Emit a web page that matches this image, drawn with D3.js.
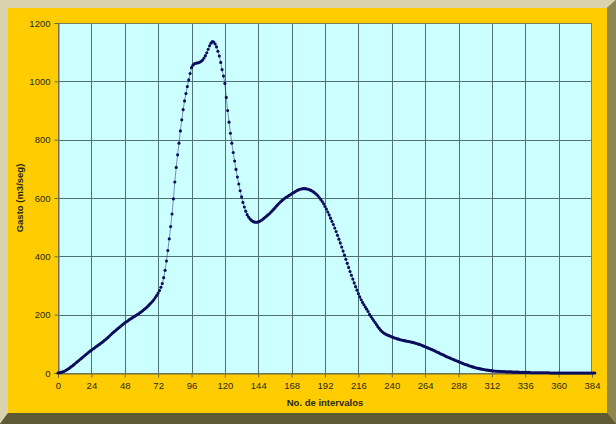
<!DOCTYPE html>
<html>
<head>
<meta charset="utf-8">
<script src="https://cdn.jsdelivr.net/npm/d3@7/dist/d3.min.js"></script>
<style>
  html, body { margin: 0; padding: 0; background: #fff; }
  svg { display: block; }
  text { font-family: "Liberation Sans", Arial, sans-serif; }
</style>
</head>
<body>
<svg id="chart" width="616" height="424"></svg>
<script>
var gasto = [
  0, 1, 2, 3, 5, 7, 10, 13, 16, 20, 23, 27, 31, 35, 39, 43, 47, 51, 55, 59, 63, 67, 71, 75,
  78, 82, 85, 89, 92, 96, 99, 103, 106, 110, 114, 118, 122, 127, 131, 136, 140, 144, 148, 152,
  156, 160, 164, 168, 172, 175, 178, 182, 185, 188, 191, 194, 197, 200, 203, 207, 210, 214, 218, 222,
  226, 231, 236, 241, 246, 252, 259, 266, 274, 283, 294, 307, 327, 352, 384, 420, 460, 502, 545, 597,
  655, 705, 748, 788, 830, 868, 903, 933, 958, 982, 1005, 1027, 1047, 1055, 1060, 1062, 1063, 1064, 1066, 1069,
  1073, 1080, 1088, 1098, 1110, 1122, 1131, 1136, 1135, 1128, 1118, 1103, 1087, 1065, 1040, 1018, 993, 945,
  900, 860, 822, 788, 756, 727, 698, 672, 648, 625, 604, 585, 569, 555, 543, 535, 529, 524, 520, 518,
  517, 517, 518, 520, 523, 526, 530, 534, 538, 542, 546, 551, 556, 561, 566, 572, 577, 582, 587, 591,
  595, 599, 602, 605, 608, 611, 614, 617, 620, 623, 626, 628, 630, 631, 632, 632, 632, 631, 630, 628,
  626, 623, 620, 616, 612, 607, 601, 595, 588, 580, 571, 562, 552, 542, 531, 520, 509, 497, 485, 472,
  459, 446, 432, 418, 404, 390, 376, 362, 348, 335, 322, 309, 296, 284, 272, 261, 251, 242, 234, 226,
  219, 211, 201, 194, 187, 180, 173, 166, 159, 153, 147, 142, 138, 135, 132, 130, 128, 126, 124, 122,
  120, 119, 117, 116, 114, 113, 112, 111, 110, 109, 108, 107, 106, 105, 104, 102, 101, 99, 98, 96,
  94, 92, 90, 88, 86, 84, 82, 80, 78, 76, 73, 71, 69, 66, 64, 62, 60, 57, 55, 53,
  51, 49, 47, 45, 43, 41, 39, 37, 35, 33, 31, 29, 28, 26, 24, 23, 21, 20, 18, 17,
  16, 15, 14, 13, 12, 11, 10, 10, 9, 8, 8, 7, 7, 6, 6, 6, 5, 5, 5, 5,
  4, 4, 4, 4, 4, 3, 3, 3, 3, 3, 2, 2, 2, 2, 2, 2, 2, 2, 1, 1,
  1, 1, 1, 1, 1, 1, 1, 1, 1, 1, 1, 1, 0, 0, 0, 0, 0, 0, 0, 0,
  0, 0, 0, 0, 0, 0, 0, 0, 0, 0, 0, 0, 0, 0, 0, 0, 0, 0, 0, 0,
  0, 0, 0, 0, 0
];
var xTicks = [0, 24, 48, 72, 96, 120, 144, 168, 192, 216, 240, 264, 288, 312, 336, 360, 384];
var yTicks = [0, 200, 400, 600, 800, 1000, 1200];
var xTitle = 'No. de intervalos';
var yTitle = 'Gasto (m3/seg)';

var W = 616, H = 424,
    plot = {left: 58, top: 23, right: 592, bottom: 373},
    svg = d3.select('#chart');

var x = d3.scaleLinear().domain([0, 384]).range([plot.left, plot.right]),
    y = d3.scaleLinear().domain([0, 1200]).range([plot.bottom, plot.top]);

// outer frame: bevelled border round the yellow chart area
svg.append('rect').attr('width', W).attr('height', H).attr('fill', '#6f6a3e');
svg.append('polygon')
  .attr('points', [[0, 0], [W, 0], [W - 9, 8], [8, 8], [8, H - 11], [0, H]].join(' '))
  .attr('fill', '#d8d3ad');
svg.append('polygon')
  .attr('points', [[W, 0], [W, H], [W - 9, H - 11], [W - 9, 8]].join(' '))
  .attr('fill', '#8c874f');
svg.append('polygon')
  .attr('points', [[0, H], [W, H], [W - 9, H - 11], [8, H - 11]].join(' '))
  .attr('fill', '#5e5a33');
svg.append('rect')
  .attr('x', 8).attr('y', 8)
  .attr('width', W - 17).attr('height', H - 19)
  .attr('fill', '#ffcc00');

// plot area
svg.append('rect')
  .attr('x', plot.left).attr('y', plot.top)
  .attr('width', plot.right - plot.left).attr('height', plot.bottom - plot.top)
  .attr('fill', '#ccffff');

// gridlines
var grid = svg.append('g').attr('stroke', '#4f7176').attr('stroke-width', 1);
grid.selectAll('line.vg').data(xTicks.slice(1, -1)).enter().append('line')
  .attr('class', 'vg')
  .attr('x1', d => Math.round(x(d)) + 0.5).attr('x2', d => Math.round(x(d)) + 0.5)
  .attr('y1', plot.top).attr('y2', plot.bottom);
grid.selectAll('line.hg').data(yTicks.slice(1, -1)).enter().append('line')
  .attr('class', 'hg')
  .attr('y1', d => Math.round(y(d)) + 0.5).attr('y2', d => Math.round(y(d)) + 0.5)
  .attr('x1', plot.left).attr('x2', plot.right);

// plot border
svg.append('rect')
  .attr('x', plot.left + 0.5).attr('y', plot.top + 0.5)
  .attr('width', plot.right - plot.left - 1).attr('height', plot.bottom - plot.top)
  .attr('fill', 'none').attr('stroke', '#7d7d62').attr('stroke-width', 1);

// axes
var xAxis = d3.axisBottom(x).tickValues(xTicks).tickFormat(d3.format('d')).tickSize(4).tickPadding(5),
    yAxis = d3.axisLeft(y).tickValues(yTicks).tickFormat(d3.format('d')).tickSize(4).tickPadding(4);

function styleAxis(g) {
  g.select('.domain').attr('stroke', '#6b6b50');
  g.selectAll('.tick line').attr('stroke', '#6b6b50');
  g.selectAll('.tick text')
    .attr('fill', '#2a2a1a')
    .attr('font-size', '9.5px')
    .attr('font-family', '"Liberation Sans", Arial, sans-serif');
}

svg.append('g')
  .attr('transform', `translate(0, ${plot.bottom + 0.5})`)
  .call(xAxis)
  .call(styleAxis);
svg.append('g')
  .attr('transform', `translate(${plot.left + 0.5}, 0)`)
  .call(yAxis)
  .call(styleAxis);

// axis titles
svg.append('text')
  .attr('x', (plot.left + plot.right) / 2)
  .attr('y', 406)
  .attr('text-anchor', 'middle')
  .attr('font-size', '9.5px')
  .attr('font-weight', 'bold')
  .attr('fill', '#2a2a1a')
  .text(xTitle);
svg.append('text')
  .attr('transform', `translate(23, ${(plot.top + plot.bottom) / 2}) rotate(-90)`)
  .attr('text-anchor', 'middle')
  .attr('font-size', '9.5px')
  .attr('font-weight', 'bold')
  .attr('fill', '#2a2a1a')
  .text(yTitle);

// series: thin connecting line plus a dot for every interval
var line = d3.line()
  .x((d, i) => x(i))
  .y(d => y(d));
svg.append('path')
  .datum(gasto)
  .attr('d', line)
  .attr('fill', 'none')
  .attr('stroke', '#1a1a70')
  .attr('stroke-width', 0.7)
  .attr('stroke-opacity', 0.7);
svg.append('g')
  .attr('fill', '#0c0c5c')
  .selectAll('circle')
  .data(gasto)
  .enter().append('circle')
    .attr('cx', (d, i) => x(i))
    .attr('cy', d => y(d))
    .attr('r', 1.55);
</script>
</body>
</html>
